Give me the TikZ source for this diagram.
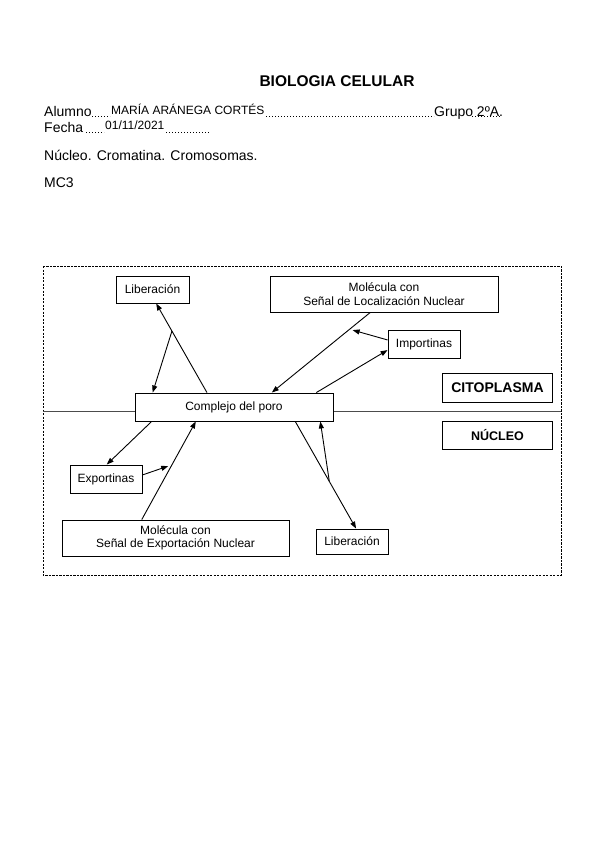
\documentclass[tikz,border=0pt]{standalone}
\usepackage{fontspec}
\setmainfont{Liberation Sans}
\usetikzlibrary{arrows.meta,calc}
\begin{document}
\begin{tikzpicture}[x=1pt,y=-1pt,
  box/.style={draw=black,line width=0.9pt,fill=white,inner sep=0pt,align=center,
     font=\fontsize{12}{13.5}\selectfont},
  arr/.style={line width=0.9pt,-{Triangle[length=7pt,width=5pt]}},
  dots/.style={line width=1pt,dash pattern=on 1pt off 2pt},
  body/.style={inner sep=0pt,anchor=base west,font=\fontsize{14}{16}\selectfont},
  small/.style={inner sep=0pt,anchor=base west,font=\fontsize{12}{14}\selectfont}]
\useasboundingbox[fill=white] (0,0) rectangle (599,848);

% header
\node[inner sep=0pt,anchor=base,font=\fontsize{15.5}{18}\selectfont\bfseries] (title) at (337,86.3) {BIOLOGIA CELULAR};
\node[body] (alumno) at (44,116.7) {Alumno};
\node[small] (name) at (111,114.3) {MARÍA ARÁNEGA CORTÉS};
\node[body] (grupo) at (434,116.7) {Grupo 2ºA.};
\draw[dots] (92,116.2) -- (110,116.2);
\draw[dots] (266,116.2) -- (434,116.2);
\draw[dots] (472,117) -- (502,117);
\node[body] (fecha) at (44,132.7) {Fecha};
\node[small] (fechaval) at (105,129.5) {01/11/2021};
\draw[dots] (86,132.2) -- (104,132.2);
\draw[dots] (166,132.2) -- (209,132.2);
\node[body] (tema) at (44,160.3) {Núcleo. Cromatina. Cromosomas.};
\node[body] (mc) at (44,187.3) {MC3};

% frame and membrane
\draw[line width=0.7pt,dash pattern=on 2.2pt off 1.3pt] (43,266) rectangle (561,575);
\draw[line width=1.2pt,black!70] (43,411.5) -- (561,411.5);

% boxes
\node[box,minimum width=73pt,minimum height=27pt] (libtop) at (152.5,289.5) {Liberación};
\node[box,minimum width=228pt,minimum height=36pt] (molnuc) at (384,294) {Molécula con\\Señal de Localización Nuclear};
\node[box,minimum width=72pt,minimum height=28pt] (imp) at (424,344) {Importinas};
\node[box,minimum width=110pt,minimum height=29pt,font=\fontsize{14}{16}\selectfont\bfseries] (cito) at (497.5,388) {CITOPLASMA};
\node[box,minimum width=110pt,minimum height=28pt,font=\fontsize{12.5}{14}\selectfont\bfseries] (nuc) at (497.5,435) {NÚCLEO};
\node[box,minimum width=198pt,minimum height=28pt] (pore) at (234,407) {Complejo del poro};
\node[box,minimum width=72pt,minimum height=28pt] (exp) at (106,479) {Exportinas};
\node[box,minimum width=227pt,minimum height=36pt] (molexp) at (175.5,538) {Molécula con\\Señal de Exportación Nuclear};
\node[box,minimum width=72pt,minimum height=25pt] (libbot) at (352,541.5) {Liberación};

% edge points
\coordinate (pA) at ($(pore.north west)!0.364!(pore.north east)$);
\coordinate (lA) at ($(libtop.south west)!0.55!(libtop.south east)$);
\coordinate (bA) at ($(pA)!0.69!(lA)$);
\coordinate (pB) at ($(pore.north west)!0.091!(pore.north east)$);
\coordinate (mN) at ($(molnuc.south west)!0.44!(molnuc.south east)$);
\coordinate (pC) at ($(pore.north west)!0.69!(pore.north east)$);
\coordinate (iA) at ($(imp.north west)!0.36!(imp.south west)$);
\coordinate (iT) at ($($(mN)!0.22!(pC)$)+(4,0)$);
\coordinate (pD) at ($(pore.north west)!0.914!(pore.north east)$);
\coordinate (iB) at ($(imp.north west)!0.71!(imp.south west)$);

\coordinate (pE) at ($(pore.south west)!0.086!(pore.south east)$);
\coordinate (eT) at ($(exp.north west)!0.51!(exp.north east)$);
\coordinate (eR) at ($(exp.north east)!0.36!(exp.south east)$);
\coordinate (mE) at ($(molexp.north west)!0.352!(molexp.north east)$);
\coordinate (pF) at ($(pore.south west)!0.308!(pore.south east)$);
\coordinate (eTip) at ($($(mE)!0.545!(pF)$)+(-3,0)$);
\coordinate (pG) at ($(pore.south west)!0.808!(pore.south east)$);
\coordinate (lB) at ($(libbot.north west)!0.556!(libbot.north east)$);
\coordinate (bB) at ($(pG)!0.56!(lB)$);
\coordinate (pH) at ($(pore.south west)!0.934!(pore.south east)$);

% connectors
\draw[arr] (pA) -- (lA);
\draw[arr] (bA) -- (pB);
\draw[arr] (mN) -- (pC);
\draw[arr] (iA) -- (iT);
\draw[arr] (pD) -- (iB);
\draw[arr] (pE) -- (eT);
\draw[arr] (eR) -- (eTip);
\draw[arr] (mE) -- (pF);
\draw[arr] (pG) -- (lB);
\draw[arr] (bB) -- (pH);
\end{tikzpicture}
\end{document}
